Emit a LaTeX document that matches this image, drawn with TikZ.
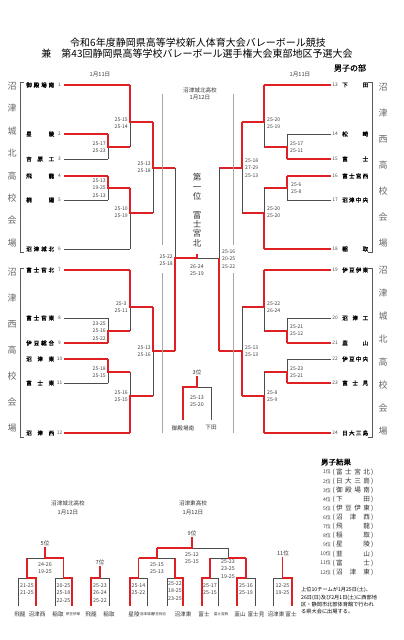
\documentclass[tikz,border=0pt]{standalone}
\usepackage{fontspec}
\setmainfont{Noto Sans CJK JP}
\newfontfamily\jpbold{Noto Sans CJK JP}[FakeBold=1.2]
\usepackage{tikz}
\usetikzlibrary{positioning}
\definecolor{winred}{RGB}{222,32,36}

\begin{document}
\begin{tikzpicture}[x=1pt,y=-1pt,
  win/.style={draw=winred, line width=1.3pt},
  lose/.style={draw=black!70, line width=0.8pt},
  grayline/.style={draw=black!35, line width=0.9pt},
  venueline/.style={draw=black!65, line width=1pt},
  team/.style={font=\fontsize{5.6}{6}\selectfont\jpbold, inner sep=0pt, anchor=west},
  tnum/.style={font=\fontsize{4.8}{6}\selectfont, text=black!70, inner sep=0pt},
  scoreL/.style={font=\fontsize{5.1}{7.6}\selectfont, text=black!75, inner sep=0pt, align=center, anchor=east},
  scoreR/.style={font=\fontsize{5.1}{7.6}\selectfont, text=black!75, inner sep=0pt, align=left, anchor=west},
  scoreC/.style={font=\fontsize{5.3}{7.2}\selectfont, text=black!75, inner sep=0pt, align=center},
  venue/.style={font=\fontsize{9}{10}\selectfont, text=black!60, inner sep=0pt},
  small/.style={font=\fontsize{5.6}{7.5}\selectfont, text=black!80, inner sep=0pt, align=center},
  tiny/.style={font=\fontsize{3.6}{4}\selectfont, text=black!80, inner sep=0pt}]

\fill[white] (0,0) rectangle (404,640);
\useasboundingbox (0,0) rectangle (404,640);

% heading
\node[font=\fontsize{10}{12}\selectfont] (title1) at (198,43) {令和6年度静岡県高等学校新人体育大会バレーボール競技};
\node[font=\fontsize{10}{12}\selectfont] (title2) at (197,54) {兼\quad 第43回静岡県高等学校バレーボール選手権大会東部地区予選大会};
\node[font=\fontsize{8}{9}\selectfont\jpbold] (dept) at (350,68) {男子の部};
\node[small] (dateL) at (100,75) {1月11日};
\node[small] (dateR) at (300,75) {1月11日};

% venues
\draw[venueline] (24,82) -- (20,82) -- (20,252) -- (24,252);
\draw[venueline] (24,268) -- (20,268) -- (20,437) -- (24,437);
\draw[venueline] (368,82) -- (372,82) -- (372,252) -- (368,252);
\draw[venueline] (368,268) -- (372,268) -- (372,437) -- (368,437);
\foreach \c [count=\i] in {沼,津,城,北,高,校,会,場}
  \node[venue] (vla\i) at (12,{86+(\i-1)*22.4}) {\c};
\foreach \c [count=\i] in {沼,津,西,高,校,会,場}
  \node[venue] (vlb\i) at (12,{272+(\i-1)*26}) {\c};
\foreach \c [count=\i] in {沼,津,西,高,校,会,場}
  \node[venue] (vra\i) at (383,{87+(\i-1)*26}) {\c};
\foreach \c [count=\i] in {沼,津,城,北,高,校,会,場}
  \node[venue] (vrb\i) at (383,{270+(\i-1)*23}) {\c};

% teams
\foreach \n/\t/\y/\x/\s in {1/{御\hfill 殿\hfill 場\hfill 南}/85/130/win, 2/{星\hfill 陵}/134/108/win,
    3/{吉\hfill 原\hfill 工}/159/108/lose, 4/{飛\hfill 龍}/176/108/win, 5/{桐\hfill 陽}/200/108/lose,
    6/{沼\hfill 津\hfill 城\hfill 北}/249/130/lose, 7/{富\hfill 士\hfill 宮\hfill 北}/270/130/win,
    8/{富\hfill 士\hfill 宮\hfill 東}/318/108/lose, 9/{伊\hfill 豆\hfill 総\hfill 合}/343/108/win,
    10/{沼\hfill 津\hfill 東}/359/108/win, 11/{富\hfill 士\hfill 東}/383/108/lose, 12/{沼\hfill 津\hfill 西}/433/130/win}{
  \node[team] (tl\n) at (26,\y) {\makebox[28pt][s]{\t}};
  \node[tnum] (nl\n) at (59.5,\y) {\n};
  \draw[\s] (64,\y) -- (\x,\y);
}
\foreach \n/\t/\y/\x/\s in {13/{下\hfill 田}/85/264/win, 14/{松\hfill 崎}/134/287/lose,
    15/{富\hfill 士}/159/287/win, 16/{富\hfill 士\hfill 宮\hfill 西}/176/287/win, 17/{沼\hfill 津\hfill 中\hfill 央}/200/287/lose,
    18/{稲\hfill 取}/249/264/win, 19/{伊\hfill 豆\hfill 伊\hfill 東}/270/264/win,
    20/{沼\hfill 津\hfill 工}/318/287/lose, 21/{韮\hfill 山}/343/287/win,
    22/{伊\hfill 豆\hfill 中\hfill 央}/359/287/lose, 23/{富\hfill 士\hfill 見}/383/287/win, 24/{日\hfill 大\hfill 三\hfill 島}/433/264/win}{
  \node[team] (tr\n) at (342,\y) {\makebox[26pt][s]{\t}};
  \node[tnum] (nr\n) at (335,\y) {\n};
  \draw[\s] (331,\y) -- (\x,\y);
}

% left bracket
\draw[lose] (108,147) -- (108,159);
\draw[win] (108,134) -- (108,147) -- (130,147);
\draw[lose] (130,122) -- (130,147);
\draw[win] (130,85) -- (130,122) -- (153,122);
\draw[lose] (108,188) -- (108,200);
\draw[win] (108,176) -- (108,188) -- (130,188);
\draw[lose] (130,213) -- (130,249);
\draw[win] (130,188) -- (130,213) -- (153,213);
\draw[lose] (153,168) -- (153,213);
\draw[win] (153,122) -- (153,168) -- (175,168);
\draw[lose] (108,318) -- (108,331);
\draw[win] (108,343) -- (108,331) -- (130,331);
\draw[lose] (130,307) -- (130,331);
\draw[win] (130,270) -- (130,307) -- (153,307);
\draw[lose] (108,372) -- (108,383);
\draw[win] (108,359) -- (108,372) -- (130,372);
\draw[lose] (130,372) -- (130,396);
\draw[win] (130,433) -- (130,396) -- (153,396);
\draw[lose] (153,351) -- (153,396);
\draw[win] (153,307) -- (153,351) -- (175,351);

% right bracket
\draw[lose] (287,134) -- (287,147);
\draw[win] (287,159) -- (287,147) -- (264,147);
\draw[lose] (264,122) -- (264,147);
\draw[win] (264,85) -- (264,122) -- (242,122);
\draw[lose] (287,188) -- (287,200);
\draw[win] (287,176) -- (287,188) -- (264,188);
\draw[lose] (264,188) -- (264,213);
\draw[win] (264,249) -- (264,213) -- (242,213);
\draw[lose] (242,168) -- (242,213);
\draw[win] (242,122) -- (242,168) -- (219,168);
\draw[lose] (287,318) -- (287,331);
\draw[win] (287,343) -- (287,331) -- (264,331);
\draw[lose] (264,307) -- (264,331);
\draw[win] (264,270) -- (264,307) -- (242,307);
\draw[lose] (287,359) -- (287,372);
\draw[win] (287,383) -- (287,372) -- (264,372);
\draw[lose] (264,372) -- (264,396);
\draw[win] (264,433) -- (264,396) -- (242,396);
\draw[lose] (242,307) -- (242,351);
\draw[win] (242,396) -- (242,351) -- (219,351);

% semifinals and final
\draw[grayline] (162,94) -- (162,245) (162,273) -- (162,433);
\draw[grayline] (233,94) -- (233,245) (233,273) -- (233,433);
\draw[lose] (175,168) -- (175,258);
\draw[lose] (219,168) -- (219,258) -- (197,258);
\draw[win] (219,351) -- (219,258);
\draw[win] (175,351) -- (175,258) -- (197,258) -- (197,254);

% scores
\node[scoreL] (sl1) at (106,147) {25-17\\25-23};
\node[scoreL] (sl2) at (128,123) {25-15\\25-14};
\node[scoreL] (sl3) at (106,188) {25-13\\19-25\\25-13};
\node[scoreL] (sl4) at (128,212) {25-10\\25-19};
\node[scoreL] (sl5) at (151,167) {25-13\\25-18};
\node[scoreL] (sl6) at (106,331) {23-25\\25-16\\25-22};
\node[scoreL] (sl7) at (128,307) {25-3\\25-11};
\node[scoreL] (sl8) at (106,372) {25-18\\25-15};
\node[scoreL] (sl9) at (128,396) {25-16\\25-15};
\node[scoreL] (sl10) at (151,351) {25-13\\25-16};
\node[scoreL] (sl11) at (173,260) {25-22\\25-18};
\node[scoreR] (sr1) at (290,147) {25-17\\25-11};
\node[scoreR] (sr2) at (267,123) {25-20\\25-19};
\node[scoreR] (sr3) at (291,188) {25-6\\25-8};
\node[scoreR] (sr4) at (267,212) {25-20\\25-20};
\node[scoreR] (sr5) at (245,168) {25-18\\27-29\\25-13};
\node[scoreR] (sr6) at (290,330) {25-21\\25-12};
\node[scoreR] (sr7) at (267,307) {25-22\\26-24};
\node[scoreR] (sr8) at (290,372) {25-23\\25-21};
\node[scoreR] (sr9) at (267,396) {25-8\\25-9};
\node[scoreR] (sr10) at (245,351) {25-13\\25-13};
\node[scoreR] (sr11) at (222,259) {25-16\\20-25\\25-22};
\node[scoreC] (sfin) at (197,270) {26-24\\25-19};

% centre
\node[small] (venueC) at (200,90) {沼津城北高校};
\node[small] (dateC) at (200,98) {1月12日};
\node[font=\fontsize{8.5}{9.4}\selectfont, text=black!80, align=center] (first) at (197,187) {第\\一\\位};
\node[font=\fontsize{8.5}{9.4}\selectfont, text=black!80, align=center] (champ) at (197,229) {富\\士\\宮\\北};

% 3rd place
\node[small] (p3) at (197,372) {3位};
\draw[lose] (197,387) -- (211,387) -- (211,420);
\draw[win] (197,376) -- (197,387) -- (183,387) -- (183,420);
\node[scoreC] (s3) at (197,401) {25-13\\25-20};
\node[small] (b3a) at (183,428) {御殿場南};
\node[small] (b3b) at (211,428) {下田};

% results
\node[font=\fontsize{7.5}{9}\selectfont\jpbold] (res) at (336,462) {男子結果};
\foreach \t [count=\i] in {{富\hfill 士\hfill 宮\hfill 北}, {日\hfill 大\hfill 三\hfill 島}, {御\hfill 殿\hfill 場\hfill 南},
    {下\hfill 田}, {伊\hfill 豆\hfill 伊\hfill 東}, {沼\hfill 津\hfill 西}, {飛\hfill 龍}, {稲\hfill 取},
    {星\hfill 陵}, {韮\hfill 山}, {富\hfill 士}, {沼\hfill 津\hfill 東}}{
  \node[font=\fontsize{5}{6}\selectfont, text=black!75, inner sep=0pt, anchor=east] (rk\i) at (331,{472+(\i-1)*9.1}) {\i 位};
  \node[font=\fontsize{6.6}{7}\selectfont, text=black!80, inner sep=0pt, anchor=west] (rn\i) at (332.5,{472+(\i-1)*9.1}) {(\,\makebox[34pt][s]{\t}\,)};
}
\node[font=\fontsize{5.2}{7.4}\selectfont, align=left, anchor=north west, inner sep=0pt] (note) at (301,587)
  {上位10チームが1月25日(土)、\\26日(日)及び2月1日(土)に西部地\\区・静岡市北部体育館で行われ\\る県大会に出場する。};

% bottom: 5th and 7th place
\node[small] (venueB1) at (68,503) {沼津城北高校};
\node[small] (dateB1) at (68,513) {1月12日};
\draw[lose] (18,606) -- (18,578) -- (27,578);
\draw[win] (27,558) -- (27,578) -- (36,578) -- (36,606);
\draw[lose] (55,606) -- (55,578) -- (63.5,578);
\draw[win] (63.5,558) -- (63.5,578) -- (72,578) -- (72,606);
\draw[lose] (27,558) -- (45,558);
\draw[win] (45,547) -- (45,558) -- (63.5,558);
\draw[lose] (109,606) -- (109,578) -- (100,578);
\draw[win] (100,566) -- (100,578) -- (91,578) -- (91,606);
\node[small] (p5) at (45,543) {5位};
\node[small] (p7) at (100,562) {7位};
\node[scoreC] (s5) at (45,568) {24-26\\19-25};
\node[scoreC] (s5a) at (27,589) {21-25\\21-25};
\node[scoreC] (s5b) at (63.5,593) {20-25\\25-18\\22-25};
\node[scoreC] (s7) at (100,593) {25-23\\26-24\\25-22};
\node[small] (b5a) at (20,614) {飛龍};
\node[small] (b5b) at (37,614) {沼津西};
\node[small] (b5c) at (58,614) {稲取};
\node[tiny] (b5d) at (73,614) {伊豆伊東};
\node[small] (b7a) at (91,614) {飛龍};
\node[small] (b7b) at (109,614) {稲取};

% bottom: 9th and 11th place
\node[small] (venueB2) at (193,503) {沼津東高校};
\node[small] (dateB2) at (193,513) {1月12日};
\draw[lose] (147,606) -- (147,578) -- (138.5,578);
\draw[win] (138.5,558) -- (138.5,578) -- (130,578) -- (130,606);
\draw[lose] (167,606) -- (167,578) -- (175,578);
\draw[win] (175,558) -- (175,578) -- (183,578) -- (183,606);
\draw[lose] (175,558) -- (157,558);
\draw[win] (157,548) -- (157,558) -- (138.5,558);
\draw[lose] (218,606) -- (218,578) -- (210,578);
\draw[win] (210,558) -- (210,578) -- (202,578) -- (202,606);
\draw[lose] (255,606) -- (255,578) -- (246,578);
\draw[win] (246,558) -- (246,578) -- (237,578) -- (237,606);
\draw[lose] (210,558) -- (228,558);
\draw[lose] (192,548) -- (228,548) -- (228,558);
\draw[win] (228,558) -- (246,558);
\draw[win] (192,537) -- (192,548) -- (157,548);
\draw[lose] (273,606) -- (273,578) -- (282.5,578);
\draw[win] (282.5,557) -- (282.5,578) -- (292,578) -- (292,606);
\node[small] (p9) at (192,533) {9位};
\node[small] (p11) at (283,553) {11位};
\node[scoreC] (s9) at (192,558) {25-12\\25-15};
\node[scoreC] (s9a) at (157,568) {25-15\\25-13};
\node[scoreC] (s9b) at (228,569) {25-23\\23-25\\19-25};
\node[scoreC] (s9c) at (138.5,589) {25-14\\25-22};
\node[scoreC] (s9d) at (175,591) {25-22\\18-25\\23-25};
\node[scoreC] (s9e) at (210,589) {25-17\\25-15};
\node[scoreC] (s9f) at (246,589) {25-16\\25-19};
\node[scoreC] (s11) at (282.5,589) {12-25\\19-25};
\node[small] (b9a) at (134,614) {星陵};
\node[tiny] (b9b) at (147,614) {沼津城北};
\node[tiny] (b9c) at (159,614) {伊豆総合};
\node[small] (b9d) at (183,614) {沼津東};
\node[small] (b9e) at (204,614) {富士};
\node[tiny] (b9f) at (221,614) {富士宮西};
\node[small] (b9g) at (240,614) {韮山};
\node[small] (b9h) at (256,614) {富士見};
\node[small] (b11a) at (276,614) {沼津東};
\node[small] (b11b) at (291,614) {富士};
\end{tikzpicture}
\end{document}
